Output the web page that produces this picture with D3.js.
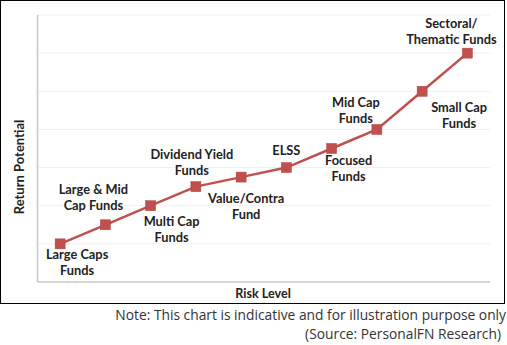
<!DOCTYPE html>
<html><head><meta charset="utf-8">
<script src="https://cdn.jsdelivr.net/npm/d3@7"></script>
<style>body{margin:0;background:#fff}svg{display:block}</style>
</head><body><svg id="c" width="507" height="345"></svg>
<script>
const categories = ["Large Caps Funds","Large & Mid Cap Funds","Multi Cap Funds","Dividend Yield Funds","Value/Contra Fund","ELSS","Focused Funds","Mid Cap Funds","Small Cap Funds","Sectoral/ Thematic Funds"];
const values = [1, 1.5, 2, 2.5, 2.75, 3, 3.5, 4, 5, 6];
const labelLines = [["Large Caps","Funds"],["Large & Mid","Cap Funds"],["Multi Cap","Funds"],["Dividend Yield","Funds"],["Value/Contra","Fund"],["ELSS"],["Focused","Funds"],["Mid Cap","Funds"],["Small Cap","Funds"],["Sectoral/","Thematic Funds"]];
const yTicks = [0,1,2,3,4,5,6,7];

const svg = d3.select("#c");
const L = 37.5, R = 490, T = 15, B = 282;
const x = d3.scaleBand().domain(categories).range([L, R]).padding(0);
const y = d3.scaleLinear().domain([0, 7]).range([B, T]);
const cx = d => x(d) + x.bandwidth()/2;

svg.append("rect").attr("x",0.5).attr("y",0.5).attr("width",504).attr("height",303)
  .attr("fill","#fff").attr("stroke","#000").attr("stroke-width",1);

// gridlines
svg.append("g").selectAll("line").data(yTicks.filter(t=>t>0)).join("line")
  .attr("x1",L).attr("x2",R).attr("y1",d=>y(d)).attr("y2",d=>y(d))
  .attr("stroke","#efefef").attr("stroke-width",1);
// axes
svg.append("line").attr("x1",L).attr("x2",L).attr("y1",T).attr("y2",B).attr("stroke","#c8c8c8").attr("stroke-width",1.5);
svg.append("line").attr("x1",L).attr("x2",R).attr("y1",B).attr("y2",B).attr("stroke","#c8c8c8").attr("stroke-width",1.5);

const red = "#C0504D";
svg.append("path").datum(categories)
  .attr("d", d3.line().x(d=>cx(d)).y((d,i)=>y(values[i])))
  .attr("fill","none").attr("stroke",red).attr("stroke-width",2.5);
svg.append("g").selectAll("rect").data(categories).join("rect")
  .attr("x",d=>cx(d)-5).attr("y",(d,i)=>y(values[i])-5).attr("width",10).attr("height",10)
  .attr("fill",red).attr("stroke","#b04340").attr("stroke-width",0.5);

// label offsets relative to point (dx, dy of first line center)
const offs = [[17,11],[-12,-35],[21,16],[-4,-32],[5,21],[0,-17],[17,12],[-21,-27],[37,16],[-16,-30]];
const lab = svg.append("g").attr("font-family","Lato, 'Open Sans', sans-serif").attr("font-weight","bold")
  .attr("font-size","12.8px").attr("fill","#222").attr("text-anchor","middle");
categories.forEach((c,i)=>{
  labelLines[i].forEach((t,j)=>{
    lab.append("text").attr("x",cx(c)+offs[i][0]).attr("y",y(values[i])+offs[i][1]+j*16)
      .attr("dy","0.35em").text(t);
  });
});

// axis titles
svg.append("text").attr("transform","translate(19,167) rotate(-90)").attr("text-anchor","middle")
  .attr("dy","0.35em").attr("font-family","Lato, sans-serif").attr("font-weight","bold").attr("font-size","13px")
  .attr("fill","#222").text("Return Potential");
svg.append("text").attr("x",263).attr("y",294).attr("text-anchor","middle").attr("dy","0.35em")
  .attr("font-family","Lato, sans-serif").attr("font-weight","bold").attr("font-size","12.6px")
  .attr("fill","#222").text("Risk Level");

// notes
svg.append("text").attr("x",506).attr("y",315).attr("dy","0.35em").attr("text-anchor","end")
  .attr("font-family","'Open Sans', sans-serif").attr("font-size","13.8px").attr("fill","#333")
  .text("Note: This chart is indicative and for illustration purpose only");
svg.append("text").attr("x",501).attr("y",334).attr("dy","0.35em").attr("text-anchor","end")
  .attr("font-family","'Open Sans', sans-serif").attr("font-size","13.8px").attr("fill","#333")
  .text("(Source: PersonalFN Research)");
</script></body></html>
